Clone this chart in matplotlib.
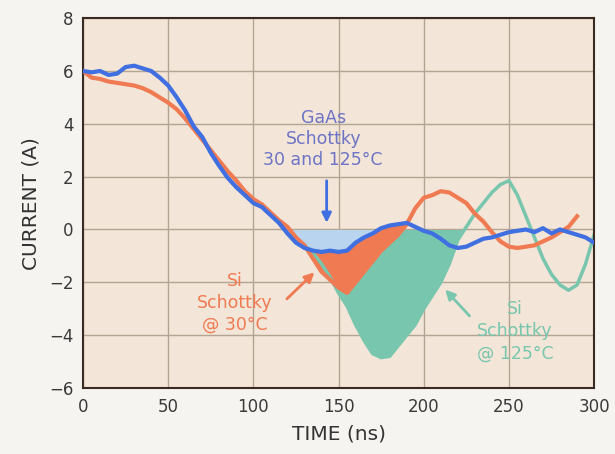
import matplotlib.pyplot as plt

plt.rcParams['font.family'] = ['DejaVu Sans']

# time axis (ns)
t_blue = list(range(0, 305, 5))
gaas = [6.0, 5.95, 6.0, 5.85, 5.9, 6.15, 6.2, 6.1, 6.0, 5.75, 5.45, 5.0, 4.5, 3.9, 3.5,
        2.9, 2.4, 1.95, 1.6, 1.3, 1.0, 0.85, 0.55, 0.25, -0.15, -0.5, -0.7, -0.8, -0.85,
        -0.8, -0.85, -0.8, -0.5, -0.3, -0.15, 0.05, 0.15, 0.2, 0.25, 0.1, -0.05, -0.15,
        -0.35, -0.6, -0.7, -0.65, -0.5, -0.35, -0.3, -0.2, -0.1, -0.05, 0.0, -0.1, 0.05,
        -0.15, 0.0, -0.1, -0.2, -0.3, -0.5]

t_orange = list(range(0, 295, 5))
si30 = [6.0, 5.75, 5.7, 5.6, 5.55, 5.5, 5.45, 5.35, 5.2, 5.0, 4.8, 4.55, 4.2, 3.8, 3.4,
        3.0, 2.6, 2.2, 1.85, 1.45, 1.15, 0.95, 0.65, 0.35, 0.1, -0.3, -0.6, -1.1, -1.6,
        -1.9, -2.2, -2.4, -2.0, -1.6, -1.2, -0.8, -0.5, -0.2, 0.2, 0.8, 1.2, 1.3, 1.45,
        1.4, 1.2, 1.0, 0.6, 0.3, -0.1, -0.45, -0.65, -0.7, -0.65, -0.6, -0.45, -0.3,
        -0.1, 0.1, 0.5]

t_teal = list(range(120, 305, 5))
si125 = [-0.15, -0.35, -0.6, -0.9, -1.3, -1.8, -2.4, -2.9, -3.6, -4.2, -4.7, -4.85, -4.8,
         -4.4, -4.0, -3.6, -3.0, -2.5, -2.0, -1.3, -0.4, 0.1, 0.6, 1.0, 1.4, 1.7, 1.85,
         1.3, 0.5, -0.3, -1.1, -1.7, -2.1, -2.3, -2.1, -1.3, -0.2]

blue = '#3f6fe0'
orange = '#f07a52'
teal = '#78c6ae'

fig = plt.figure(figsize=(6.15, 4.54), dpi=100, facecolor='#f5f4f1')
ax = fig.add_axes([0.135, 0.1454, 0.831, 0.8146])
ax.set_facecolor('#f3e5d7')

# fills
ax.fill_between(t_teal, si125, 0, where=[v < 0 and 125 <= t <= 225 for t, v in zip(t_teal, si125)],
                color=teal, lw=0, zorder=1.5, interpolate=True)
ax.fill_between(t_blue, gaas, 0, where=[120 <= t <= 175 and v < 0 for t, v in zip(t_blue, gaas)],
                color='#b9d4ee', lw=0, zorder=1.6, interpolate=True)
b_sub = [gaas[t_blue.index(t)] for t in t_orange]
ax.fill_between(t_orange, si30, b_sub,
                where=[125 <= t <= 190 and o < b for t, o, b in zip(t_orange, si30, b_sub)],
                color=orange, lw=0, zorder=1.7, interpolate=True)

# lines
ax.plot(t_teal, si125, color=teal, lw=2.5, zorder=2.5)
ax.plot(t_orange, si30, color=orange, lw=3, zorder=3)
ax.plot(t_blue, gaas, color=blue, lw=3, zorder=4)

ax.set_xlim(0, 300)
ax.set_ylim(-6, 8)
ax.set_xticks(range(0, 301, 50))
ax.set_yticks(range(-6, 9, 2))
ax.grid(True, color='#b3a594', lw=1.0)
ax.set_axisbelow(True)
for s in ax.spines.values():
    s.set_color('#3b2a22')
    s.set_linewidth(1.5)
ax.tick_params(length=0, labelsize=12, colors='#3a3a3a', pad=7)
ax.set_xlabel('TIME (ns)', fontsize=14.5, color='#333333', labelpad=6)
ax.set_ylabel('CURRENT (A)', fontsize=14.5, color='#333333', labelpad=6)

# annotations
ax.text(141, 3.42, 'GaAs\nSchottky\n30 and 125°C', color='#6d74c6', fontsize=12.5,
        ha='center', va='center', linespacing=1.2, zorder=5)
ax.annotate('', xy=(143, 0.15), xytext=(143, 1.95),
            arrowprops=dict(arrowstyle='-|>', color=blue, lw=2, mutation_scale=14), zorder=5)
ax.text(89, -2.78, 'Si\nSchottky\n@ 30°C', color=orange, fontsize=12.5,
        ha='center', va='center', linespacing=1.3, zorder=5)
ax.annotate('', xy=(137, -1.55), xytext=(118.5, -2.7),
            arrowprops=dict(arrowstyle='-|>', color=orange, lw=2, mutation_scale=14), zorder=5)
ax.text(253.5, -3.85, 'Si\nSchottky\n@ 125°C', color=teal, fontsize=12.5,
        ha='center', va='center', linespacing=1.3, zorder=5)
ax.annotate('', xy=(211.5, -2.2), xytext=(228, -3.35),
            arrowprops=dict(arrowstyle='-|>', color=teal, lw=2, mutation_scale=14), zorder=5)

fig.savefig('out.png', dpi=100, facecolor=fig.get_facecolor())
